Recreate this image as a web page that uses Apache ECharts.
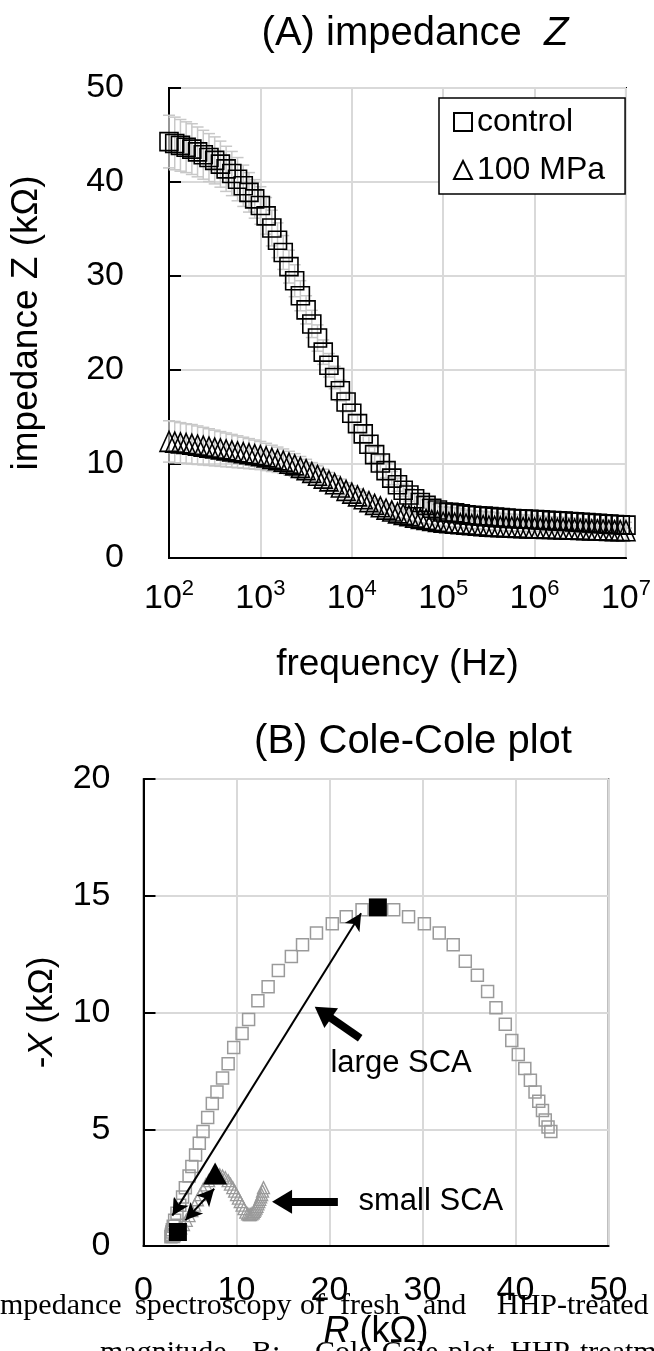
<!DOCTYPE html>
<html><head><meta charset="utf-8">
<script src="https://cdn.jsdelivr.net/npm/echarts@6/dist/echarts.min.js"></script>
<style>html,body{margin:0;padding:0;background:#fff}#c{width:654px;height:1351px}</style>
</head><body><div id="c"></div>
<script>
// ---------- (A) impedance Z vs frequency ----------
const freqHz = [100,115.5,133.4,154,177.8,205.4,237.1,273.8,316.2,365.2,421.7,487,562.3,649.4,749.9,866,
 1000,1155,1334,1540,1778,2054,2371,2738,3162,3652,4217,4870,5623,6494,7499,8660,
 10000,11550,13340,15400,17780,20540,23710,27380,31620,36520,42170,48700,56230,64940,74990,86600,
 100000,115500,133400,154000,177800,205400,237100,273800,316200,365200,421700,487000,562300,649400,749900,866000,
 1000000,1155000,1334000,1540000,1778000,2054000,2371000,2738000,3162000,3652000,4217000,4870000,5623000,6494000,7499000,8660000,
 10000000];
const controlZ = [44.3,44.1,43.9,43.7,43.5,43.2,42.9,42.6,42.3,41.9,41.4,40.9,40.3,39.6,38.9,38.2,
 37.5,36.4,35.1,33.8,32.5,31.0,29.5,27.9,26.4,24.9,23.4,21.9,20.5,19.2,17.8,16.6,
 15.4,14.3,13.2,12.1,11.0,10.1,9.3,8.5,7.8,7.2,6.7,6.3,5.9,5.6,5.3,5.1,
 4.9,4.85,4.8,4.7,4.6,4.55,4.5,4.45,4.4,4.35,4.3,4.25,4.2,4.18,4.15,4.12,
 4.1,4.06,4.02,3.98,3.95,3.92,3.88,3.84,3.8,3.76,3.72,3.68,3.64,3.6,3.56,3.53,
 3.5];
const controlErr = [2.8,2.8,2.75,2.7,2.7,2.65,2.6,2.55,2.5,2.45,2.4,2.35,2.3,2.2,2.1,2.05,
 2.0,1.95,1.9,1.85,1.8,1.75,1.7,1.6,1.5,1.45,1.4,1.3,1.25,1.2,1.1,1.05,
 1.0,0.95,0.9,0.85,0.8,0.8,0.75,0.7,0.7,0.65,0.65,0.6,0.6,0.6,0.6,0.6,
 0.55,0.55,0.55,0.55,0.5,0.5,0.5,0.5,0.5,0.5,0.45,0.45,0.45,0.45,0.45,0.45,
 0.4,0.4,0.4,0.4,0.4,0.4,0.4,0.4,0.35,0.35,0.35,0.35,0.35,0.35,0.35,0.35,
 0.3];
const mpaZ = [12.4,12.33,12.25,12.18,12.1,12.0,11.9,11.8,11.7,11.6,11.5,11.4,11.3,11.2,11.1,11.0,
 10.9,10.75,10.6,10.45,10.3,10.1,9.9,9.65,9.4,9.1,8.8,8.5,8.2,7.9,7.55,7.2,
 6.9,6.6,6.3,6.0,5.7,5.45,5.2,5.0,4.8,4.65,4.5,4.35,4.2,4.1,4.0,3.9,
 3.8,3.75,3.7,3.65,3.6,3.55,3.5,3.45,3.4,3.37,3.34,3.31,3.28,3.25,3.23,3.21,
 3.2,3.18,3.16,3.14,3.12,3.1,3.08,3.06,3.04,3.02,3.0,2.98,2.96,2.94,2.92,2.91,
 2.9];
const mpaErr = [2.2,2.2,2.15,2.1,2.1,2.05,2.0,1.95,1.9,1.85,1.8,1.75,1.7,1.65,1.6,1.55,
 1.5,1.45,1.4,1.35,1.3,1.25,1.2,1.15,1.1,1.05,1.0,0.95,0.9,0.85,0.85,0.8,
 0.8,0.75,0.7,0.65,0.6,0.6,0.55,0.55,0.5,0.5,0.5,0.45,0.45,0.45,0.4,0.4,
 0.4,0.4,0.4,0.4,0.4,0.4,0.4,0.4,0.4,0.4,0.4,0.4,0.4,0.4,0.4,0.4,
 0.35,0.35,0.35,0.35,0.35,0.35,0.35,0.35,0.35,0.35,0.35,0.35,0.35,0.35,0.35,0.35,
 0.3];
const seriesNames = ['control', '100 MPa'];

// ---------- (B) Cole-Cole plot ----------
const ccControlR = [43.8,43.5,43.2,42.9,42.5,42.1,41.6,41.0,40.3,39.6,38.9,37.9,37.0,35.9,34.6,33.3,31.8,30.2,28.5,26.9,
 25.2,23.5,21.8,20.3,18.6,17.1,15.9,14.5,13.4,12.3,11.3,10.6,9.7,9.1,8.5,7.9,7.4,6.9,6.4,6.0,
 5.6,5.2,4.9,4.5,4.2,3.9,3.6,3.35,3.2,3.1,3.05,3.0,3.0,2.95];
const ccControlX = [4.9,5.1,5.4,5.8,6.2,6.6,7.1,7.6,8.2,8.8,9.5,10.2,10.9,11.6,12.2,12.9,13.4,13.8,14.1,14.4,
 14.5,14.4,14.1,13.8,13.4,12.9,12.4,11.8,11.1,10.5,9.7,9.1,8.5,7.8,7.2,6.6,6.1,5.5,4.9,4.4,
 3.9,3.4,3.0,2.5,2.1,1.75,1.4,1.1,0.85,0.7,0.6,0.5,0.45,0.4];
const ccMpaR = [12.9,12.8,12.7,12.6,12.5,12.4,12.3,12.2,12.1,12.0,11.9,11.8,11.65,11.5,11.35,11.2,
 11.0,10.8,10.6,10.4,10.2,10.0,9.8,9.6,9.35,9.1,8.8,8.5,8.2,7.9,7.6,
 7.3,7.0,6.7,6.4,6.1,5.8,5.5,5.2,4.9,4.6,4.3,4.0,3.8,3.6,3.45,3.3,3.2];
const ccMpaX = [2.5,2.35,2.2,2.1,2.0,1.9,1.8,1.7,1.62,1.55,1.48,1.42,1.38,1.35,1.35,1.38,
 1.45,1.6,1.75,1.9,2.05,2.2,2.35,2.5,2.65,2.8,2.92,3.0,3.05,3.05,3.0,
 2.92,2.8,2.62,2.42,2.2,1.98,1.75,1.52,1.3,1.1,0.92,0.78,0.66,0.56,0.5,0.45,0.4];
// highlighted points (filled)
const scaSquareR = [25.2, 3.7];
const scaSquareX = [14.5, 0.6];
const scaTriangleR = [7.7];
const scaTriangleX = [3.1];
// double-headed arrows [R1, X1, R2, X2]
const largeScaSpan = [3.1, 1.3, 23.4, 14.25];
const smallScaSpan = [4.5, 1.1, 7.6, 2.45];
// pointer arrows [tailR, tailX, headR, headX]
const largeScaPointer = [23.3, 8.9, 19.3, 10.0];
const smallScaPointer = [20.9, 1.9, 14.9, 1.9];
const annotationText = ['large SCA', 'small SCA'];
const annotationR = [27.7, 30.9];
const annotationX = [7.8, 1.9];

// caption fragments (cropped text of the source page)
const captionLine1 = ['mpedance', 'spectroscopy', 'of', 'fresh', 'and', 'HHP-treated'];
const captionLine2 = ['magnitude.', 'B:', 'Cole-Cole', 'plot', 'HHP-treatment'];

const SANS = "'Liberation Sans', Arial, sans-serif";
const SERIF = "'Liberation Serif', 'Times New Roman', serif";

const pairs = (a, b) => a.map((v, i) => [v, b[i]]);
const errData = (f, z, e) => f.map((v, i) => [v, z[i] - e[i], z[i] + e[i]]);

function errorBars(params, api) {
  const x = api.value(0), lo = api.value(1), hi = api.value(2);
  const p1 = api.coord([x, hi]), p2 = api.coord([x, lo]);
  const w = 6, st = { stroke: '#c8c8c8', lineWidth: 1.5 };
  return { type: 'group', children: [
    { type: 'line', shape: { x1: p1[0], y1: p1[1], x2: p2[0], y2: p2[1] }, style: st },
    { type: 'line', shape: { x1: p1[0] - w, y1: p1[1], x2: p1[0] + w, y2: p1[1] }, style: st },
    { type: 'line', shape: { x1: p2[0] - w, y1: p2[1], x2: p2[0] + w, y2: p2[1] }, style: st }
  ]};
}

const hollow = (c, w) => ({ color: 'rgba(0,0,0,0)', borderColor: c, borderWidth: w, opacity: 1 });
const solid = { color: '#000', opacity: 1 };
const gridLine = { show: true, lineStyle: { color: '#d9d9d9', width: 2 } };
const axLine = { show: true, onZero: false, lineStyle: { color: '#000', width: 2 } };
const yTick = { show: true, inside: true, length: 12, lineStyle: { color: '#000', width: 2 } };

const chart = echarts.init(document.getElementById('c'), null, { renderer: 'canvas' });
chart.setOption({
  backgroundColor: '#fff',
  animation: false,
  title: [
    { text: '(A) impedance  {i|Z}', left: 410, top: 9, textAlign: 'center',
      textStyle: { fontFamily: SANS, fontSize: 40, fontWeight: 'normal', color: '#000',
        rich: { i: { fontFamily: SANS, fontSize: 40, fontStyle: 'italic', color: '#000' } } } },
    { text: '(B) Cole-Cole plot', left: 408, top: 717, textAlign: 'center',
      textStyle: { fontFamily: SANS, fontSize: 40, fontWeight: 'normal', color: '#000' } }
  ],
  legend: {
    data: seriesNames, orient: 'vertical', left: 439, top: 98,
    backgroundColor: '#fff', borderColor: '#000', borderWidth: 1.5,
    padding: [8, 20, 8, 14], itemGap: 16, itemWidth: 18, itemHeight: 18,
    textStyle: { fontFamily: SANS, fontSize: 32, color: '#000' }
  },
  grid: [
    { left: 163, top: 88, width: 467, height: 470, show: true, borderColor: '#000', borderWidth: 2, backgroundColor: 'transparent' },
    { left: 143.5, top: 779, width: 465, height: 468, show: true, borderColor: '#000', borderWidth: 1.5, backgroundColor: 'transparent' }
  ],
  xAxis: [
    { gridIndex: 0, type: 'log', logBase: 10, min: 100, max: 10000000,
      axisLine: axLine, axisTick: { show: false }, splitLine: gridLine, minorTick: { show: false },
      axisLabel: { margin: 20, color: '#000',
        formatter: v => '{b|10}{s|' + Math.round(Math.log10(v)) + '}',
        rich: { b: { fontFamily: SANS, fontSize: 34, color: '#000', verticalAlign: 'bottom' },
                s: { fontFamily: SANS, fontSize: 22, color: '#000', verticalAlign: 'bottom', padding: [0, 0, 16, 0] } } },
      name: 'frequency (Hz)', nameLocation: 'middle', nameGap: 88,
      nameTextStyle: { fontFamily: SANS, fontSize: 37, color: '#000' } },
    { gridIndex: 1, type: 'value', min: 0, max: 50, interval: 10,
      axisLine: axLine, axisTick: { show: false }, splitLine: gridLine,
      axisLabel: { margin: 28, fontFamily: SANS, fontSize: 34, color: '#000' },
      name: '{i|R} (kΩ)', nameLocation: 'middle', nameGap: 68,
      nameTextStyle: { fontFamily: SANS, fontSize: 36, color: '#000',
        rich: { i: { fontFamily: SANS, fontSize: 36, fontStyle: 'italic', color: '#000' } } } }
  ],
  yAxis: [
    { gridIndex: 0, type: 'value', min: 0, max: 50, interval: 10,
      axisLine: axLine, axisTick: yTick, splitLine: gridLine,
      axisLabel: { margin: 45, fontFamily: SANS, fontSize: 34, color: '#000' },
      name: 'impedance Z (kΩ)', nameLocation: 'middle', nameGap: 124, nameRotate: 90,
      nameTextStyle: { fontFamily: SANS, fontSize: 37, color: '#000' } },
    { gridIndex: 1, type: 'value', min: 0, max: 20, interval: 5,
      axisLine: axLine, axisTick: yTick, splitLine: gridLine,
      axisLabel: { margin: 33, fontFamily: SANS, fontSize: 34, color: '#000' },
      name: '-{i|X} (kΩ)', nameLocation: 'middle', nameGap: 84, nameRotate: 90,
      nameTextStyle: { fontFamily: SANS, fontSize: 35, color: '#000',
        rich: { i: { fontFamily: SANS, fontSize: 35, fontStyle: 'italic', color: '#000' } } } }
  ],
  series: [
    { name: 'controlErr', type: 'custom', xAxisIndex: 0, yAxisIndex: 0, renderItem: errorBars,
      encode: { x: 0, y: [1, 2] }, data: errData(freqHz, controlZ, controlErr), z: 1, silent: true },
    { name: 'mpaErr', type: 'custom', xAxisIndex: 0, yAxisIndex: 0, renderItem: errorBars,
      encode: { x: 0, y: [1, 2] }, data: errData(freqHz, mpaZ, mpaErr), z: 1, silent: true },
    { name: seriesNames[0], type: 'scatter', xAxisIndex: 0, yAxisIndex: 0, symbol: 'rect', symbolSize: 18,
      itemStyle: hollow('#000', 1.6), data: pairs(freqHz, controlZ), z: 3, clip: false },
    { name: seriesNames[1], type: 'scatter', xAxisIndex: 0, yAxisIndex: 0, symbol: 'triangle', symbolSize: [18, 20],
      itemStyle: hollow('#000', 1.6), data: pairs(freqHz, mpaZ), z: 3, clip: false },

    { name: 'Cole-Cole control', type: 'scatter', xAxisIndex: 1, yAxisIndex: 1, symbol: 'rect', symbolSize: 12,
      itemStyle: hollow('#9a9a9a', 1.5), data: pairs(ccControlR, ccControlX), z: 2 },
    { name: 'Cole-Cole 100 MPa', type: 'scatter', xAxisIndex: 1, yAxisIndex: 1, symbol: 'triangle', symbolSize: [12, 12],
      itemStyle: hollow('#9a9a9a', 1.3), data: pairs(ccMpaR, ccMpaX), z: 2 },
    { name: 'SCA square', type: 'scatter', xAxisIndex: 1, yAxisIndex: 1, symbol: 'rect', symbolSize: 18,
      itemStyle: solid, data: pairs(scaSquareR, scaSquareX), z: 4 },
    { name: 'SCA triangle', type: 'scatter', xAxisIndex: 1, yAxisIndex: 1, symbol: 'triangle', symbolSize: [24, 22],
      itemStyle: solid, data: pairs(scaTriangleR, scaTriangleX), z: 4,
      markLine: {
        silent: true, animation: false, label: { show: false }, emphasis: { disabled: true },
        data: [
          [ { coord: [largeScaSpan[0], largeScaSpan[1]], symbol: 'arrow', symbolSize: [13, 17], lineStyle: { color: '#000', width: 2, type: 'solid' } },
            { coord: [largeScaSpan[2], largeScaSpan[3]], symbol: 'arrow', symbolSize: [13, 17] } ],
          [ { coord: [smallScaSpan[0], smallScaSpan[1]], symbol: 'arrow', symbolSize: [13, 17], lineStyle: { color: '#000', width: 2, type: 'solid' } },
            { coord: [smallScaSpan[2], smallScaSpan[3]], symbol: 'arrow', symbolSize: [13, 17] } ],
          [ { coord: [largeScaPointer[0], largeScaPointer[1]], symbol: 'none', lineStyle: { color: '#000', width: 8, type: 'solid' } },
            { coord: [largeScaPointer[2], largeScaPointer[3]], symbol: 'triangle', symbolSize: [24, 20] } ],
          [ { coord: [smallScaPointer[0], smallScaPointer[1]], symbol: 'none', lineStyle: { color: '#000', width: 8, type: 'solid' } },
            { coord: [smallScaPointer[2], smallScaPointer[3]], symbol: 'triangle', symbolSize: [24, 20] } ]
        ]
      } },
    { name: 'annotations', type: 'scatter', xAxisIndex: 1, yAxisIndex: 1, symbolSize: 0, silent: true, z: 5,
      itemStyle: { opacity: 1 },
      data: annotationText.map((t, i) => ({ name: t, value: [annotationR[i], annotationX[i]] })),
      label: { show: true, position: 'inside', formatter: '{b}', fontFamily: SANS, fontSize: 31, color: '#000', opacity: 1 } }
  ],
  graphic: [
    ...captionLine1.map((w, i) => ({ type: 'text', left: [0, 135, 300, 340, 423, 497][i], top: 1291, z: 10,
      style: { text: w, font: '30px ' + SERIF, fill: '#000' } })),
    ...captionLine2.map((w, i) => ({ type: 'text', left: [100, 252, 315, 448, 510][i], top: 1338, z: 10,
      style: { text: w, font: '30px ' + SERIF, fill: '#000' } }))
  ]
});
</script></body></html>
